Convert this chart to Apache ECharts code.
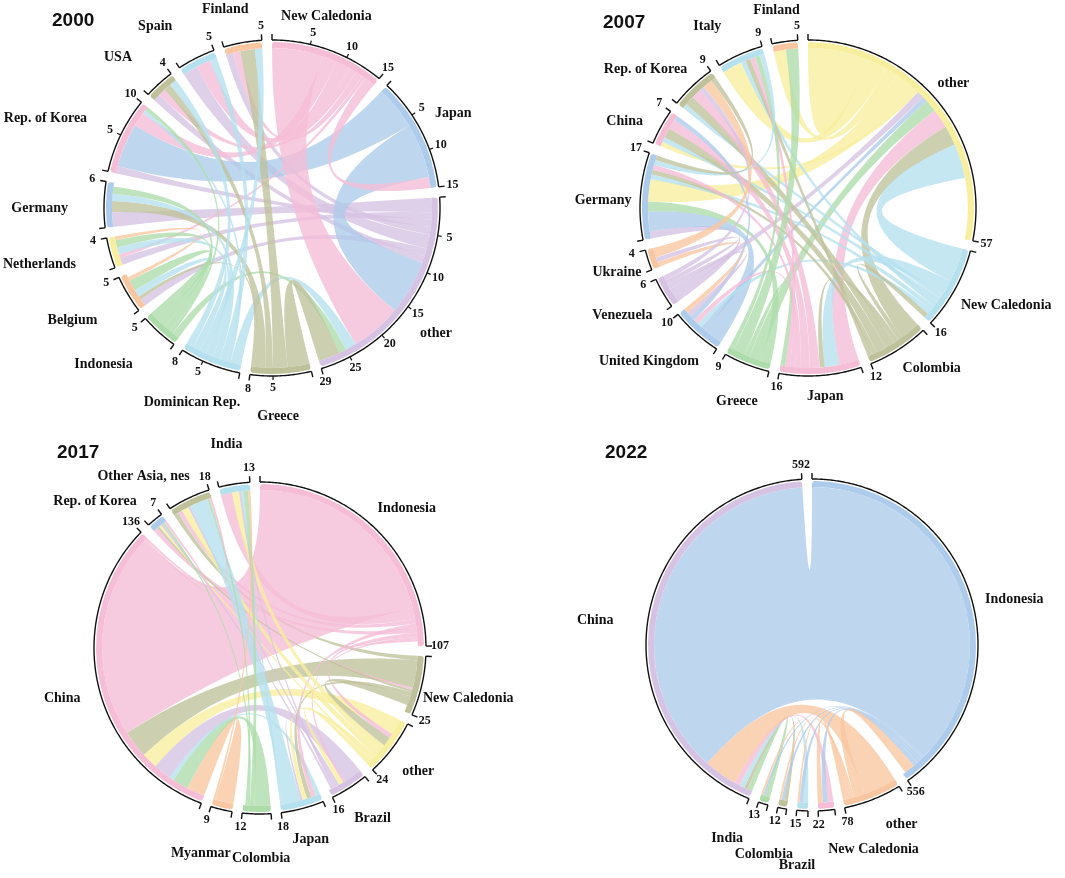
<!DOCTYPE html>
<html><head><meta charset="utf-8">
<script src="https://cdn.jsdelivr.net/npm/echarts@6/dist/echarts.min.js"></script>
<style>html,body{margin:0;padding:0;background:#fff}#c{width:1065px;height:878px}</style>
</head><body><div id="c"></div><script>
// ---------- DATA ----------
const names2000 = ['New Caledonia','Japan','other','Greece','Dominican Rep.','Indonesia','Belgium','Netherlands','Germany','Rep. of Korea','USA','Spain','Finland'];
const totals2000 = [15,15,29,8,8,5,5,4,6,10,4,5,5];
const links2000 = [
  ['other','Germany',2],['other','Netherlands',1],['other','Rep. of Korea',1],['other','Finland',1],['other','Spain',2],['other','Belgium',1],['other','USA',1],
  ['Japan','Rep. of Korea',6],['Japan','other',7.5],
  ['New Caledonia','other',7],['New Caledonia','Rep. of Korea',2],['New Caledonia','Spain',2],['New Caledonia','USA',1],
  ['New Caledonia','Finland',1],['New Caledonia','Netherlands',0.5],['New Caledonia','Japan',1.5],
  ['Dominican Rep.','other',1.5],['Indonesia','other',1],['Greece','other',3],
  ['Greece','Finland',2],['Greece','USA',1],['Greece','Germany',1.5],['Greece','Belgium',0.5],
  ['Dominican Rep.','Rep. of Korea',0.5],['Dominican Rep.','Spain',1],['Dominican Rep.','Germany',1],['Dominican Rep.','Netherlands',1],
  ['Dominican Rep.','Finland',1],['Dominican Rep.','Belgium',1],['Dominican Rep.','USA',1],
  ['Indonesia','Rep. of Korea',0.5],['Indonesia','Germany',1],['Indonesia','Netherlands',1],['Indonesia','Belgium',1.5],
  ['Belgium','Netherlands',0.5]
];

const names2007 = ['other','New Caledonia','Colombia','Japan','Greece','United Kingdom','Venezuela','Ukraine','Germany','China','Rep. of Korea','Italy','Finland'];
const totals2007 = [57,16,12,16,9,10,6,4,17,7,9,9,5];
const links2007 = [
  ['Venezuela','Germany',1.5],['United Kingdom','Germany',4],['Greece','Germany',2],
  ['other','other',12.5],['other','Italy',4],['other','Finland',2.5],['other','Germany',4.5],['other','China',1],
  ['Venezuela','other',1.5],['United Kingdom','other',1],['Greece','other',2.5],['Japan','other',4],['Colombia','other',4],['New Caledonia','other',7],
  ['New Caledonia','Japan',3],['New Caledonia','Rep. of Korea',1],['New Caledonia','China',1],
  ['New Caledonia','Italy',1],['New Caledonia','Germany',1],['New Caledonia','United Kingdom',1],
  ['Colombia','New Caledonia',1],['Colombia','Japan',1],['Colombia','Rep. of Korea',2],['Colombia','China',2],
  ['Colombia','Germany',1],['Colombia','Italy',1],
  ['Japan','Rep. of Korea',2],['Japan','China',2],['Japan','Germany',1],['Japan','United Kingdom',1],['Japan','Italy',1],
  ['Greece','Japan',1],['Greece','Finland',2.5],['Greece','Italy',1],
  ['United Kingdom','China',1],
  ['Venezuela','United Kingdom',1],['Ukraine','United Kingdom',1],
  ['Venezuela','Ukraine',1],['Venezuela','Rep. of Korea',1],['Ukraine','Rep. of Korea',2],
  ['Italy','Germany',1],['Rep. of Korea','Germany',1]
];

const names2017 = ['Indonesia','New Caledonia','other','Brazil','Japan','Colombia','Myanmar','China','Rep. of Korea','Other Asia, nes','India'];
const totals2017 = [107,25,24,16,18,12,9,136,7,18,13];
const links2017 = [
  ['New Caledonia','Other Asia, nes',2],
  ['Myanmar','China',8],['Colombia','China',7],['Japan','China',2],['Brazil','China',8],['other','China',7],['New Caledonia','China',12],['Indonesia','China',90],
  ['Indonesia','India',5],['Indonesia','Other Asia, nes',2],['Indonesia','Japan',2],['Indonesia','Rep. of Korea',2],
  ['Indonesia','other',2],['Indonesia','Brazil',1],['Indonesia','New Caledonia',1],
  ['New Caledonia','Rep. of Korea',1],['New Caledonia','Japan',2],['New Caledonia','other',4],
  ['other','India',3],['other','Other Asia, nes',3],['other','Japan',2],['other','Rep. of Korea',1],['other','Brazil',2],
  ['Brazil','Japan',1],['Brazil','Other Asia, nes',1],['Brazil','India',1],['Brazil','Rep. of Korea',1],
  ['Japan','Other Asia, nes',8],['Japan','India',1],
  ['Colombia','India',2],['Colombia','Rep. of Korea',1],['Colombia','Other Asia, nes',1],
  ['Myanmar','India',1],
  ['China','Rep. of Korea',1],['China','Other Asia, nes',1]
];

const names2022 = ['Indonesia','other','New Caledonia','Brazil','Colombia','India','China'];
const totals2022 = [556,78,22,15,12,13,592];
const links2022 = [
  ['India','China',7],['Colombia','China',5],['Brazil','China',7],['New Caledonia','China',8],['other','China',47],['Indonesia','China',518],
  ['Indonesia','India',3],['Indonesia','Colombia',4],['Indonesia','Brazil',5],['Indonesia','New Caledonia',7],['other','Indonesia',15],
  ['other','India',3],['other','Colombia',3],['other','Brazil',3],['other','New Caledonia',7]
];

// ---------- STYLE ----------
const C = {pink:'#f5bdd6', blue:'#adcbea', lav:'#d6c3e3', olive:'#bfc19b', cyan:'#b5e0ee', green:'#addcab', orange:'#f8c6a0', yellow:'#f7ee9e'};
const colors2000 = [C.pink,C.blue,C.lav,C.olive,C.cyan,C.green,C.orange,C.yellow,C.blue,C.pink,C.olive,C.cyan,C.orange];
const colors2007 = [C.yellow,C.cyan,C.olive,C.pink,C.green,C.blue,C.lav,C.orange,C.blue,C.pink,C.olive,C.cyan,C.orange];
const colors2017 = [C.pink,C.olive,C.yellow,C.lav,C.cyan,C.green,C.orange,C.pink,C.blue,C.olive,C.cyan];
const colors2022 = [C.blue,C.orange,C.pink,C.cyan,C.olive,C.green,C.lav];
// name label nudges (px) relative to the automatic outside anchor
const nudge2000 = [[-56,-4],[-8,0],[-10,9],[-4,10],[39,9],[-10,7],[-10,7],[-11,5],[-12,4],[-12,1],[-11,-1],[-13,-3],[-13,-3]];
const nudge2007 = [[-19,4],[-15,-3],[-9,-8],[3,-10],[20,8],[19,3],[10,3],[16,-2],[15,6],[3,13],[11,8],[-9,1],[-5,0]];
const nudge2017 = [[-16,2],[-22,7],[-9,1],[-8,3],[2,1],[5,13],[-15,14],[6,9],[-3,7],[11,7],[-4,-9]];
const nudge2022 = [[-8,19],[4,-4],[45,8],[-4,24],[-14,15],[-29,5],[-11,6]];

const PAD = 3.5;
const panels = [
  {title:'2000', tx:47, ty:6,   cx:272, cy:208, R:168, names:names2000, totals:totals2000, links:links2000, colors:colors2000, nudge:nudge2000, step:5},
  {title:'2007', tx:598, ty:8,  cx:808, cy:208, R:168, names:names2007, totals:totals2007, links:links2007, colors:colors2007, nudge:nudge2007, step:0},
  {title:'2017', tx:52, ty:438, cx:260, cy:648, R:166, names:names2017, totals:totals2017, links:links2017, colors:colors2017, nudge:nudge2017, step:0},
  {title:'2022', tx:600, ty:438,cx:812, cy:645, R:166, names:names2022, totals:totals2022, links:links2022, colors:colors2022, nudge:nudge2022, step:0}
];

// sector extents on the polar angle axis (degrees), mirroring the chord layout
panels.forEach(P => {
  const sums = P.names.map(() => 0);
  P.links.forEach(l => { sums[P.names.indexOf(l[0])] += l[2]; sums[P.names.indexOf(l[1])] += l[2]; });
  const eff = P.totals.map((t, i) => Math.max(t, sums[i]));
  const tot = eff.reduce((a, b) => a + b, 0);
  const unit = (360 - PAD * P.names.length) / tot;
  let cum = 0;
  P.lay = eff.map(v => { const a0 = cum, a1 = cum + v * unit; cum = a1 + PAD; return {a0, a1, unit}; });
});

const SERIF = '"Liberation Serif","DejaVu Serif",serif';
const option = {
  animation: false,
  backgroundColor: '#fff',
  title: panels.map(P => ({text: P.title, left: P.tx, top: P.ty, textStyle: {fontFamily: '"Liberation Sans",Arial,sans-serif', fontWeight: 'bold', fontSize: 19, color: '#111'}})),
  polar: panels.map(P => ({center: [P.cx, P.cy], radius: P.R + 80})),
  angleAxis: panels.map((P, i) => ({polarIndex: i, type: 'value', min: 0, max: 360, startAngle: 90, clockwise: true,
    axisLine: {show: false}, axisTick: {show: false}, axisLabel: {show: false}, splitLine: {show: false}})),
  radiusAxis: panels.map((P, i) => ({polarIndex: i, type: 'value', min: 0, max: P.R + 80,
    axisLine: {show: false}, axisTick: {show: false}, axisLabel: {show: false}, splitLine: {show: false}})),
  series: []
};

panels.forEach((P, pi) => {
  option.series.push({
    type: 'chord', center: [P.cx, P.cy], radius: [P.R - 8, P.R - 2],
    startAngle: 90, clockwise: true, padAngle: PAD, minAngle: 0,
    label: {show: false}, silent: true,
    itemStyle: {borderWidth: 0},
    lineStyle: {color: 'source', opacity: 0.78},
    data: P.names.map((n, i) => ({name: n, value: P.totals[i], itemStyle: {color: P.colors[i]}})),
    links: P.links.map(l => ({source: l[0], target: l[1], value: l[2]}))
  });
  option.series.push({
    type: 'custom', coordinateSystem: 'polar', polarIndex: pi, silent: true, z: 10,
    data: P.names.map((n, i) => [P.R, i]),
    renderItem: function (params, api) {
      const i = params.dataIndex, L = P.lay[i], R = P.R;
      const children = [];
      const pts = [];
      for (let t = L.a0; t < L.a1; t += 0.5) pts.push(api.coord([R, t]));
      pts.push(api.coord([R, L.a1]));
      children.push({type: 'polyline', shape: {points: pts}, style: {stroke: '#111', lineWidth: 1.4, fill: null}});
      [L.a0, L.a1].forEach(a => {
        const p1 = api.coord([R, a]), p2 = api.coord([R + 6, a]);
        children.push({type: 'line', shape: {x1: p1[0], y1: p1[1], x2: p2[0], y2: p2[1]}, style: {stroke: '#111', lineWidth: 1.4}});
      });
      const txt = (a, r, s, size) => {
        const p = api.coord([r, a]);
        return {type: 'text', x: p[0], y: p[1], style: {text: s, fontFamily: SERIF, fontWeight: 'bold', fontSize: size, fill: '#111', align: 'center', verticalAlign: 'middle'}};
      };
      if (P.step) {
        for (let k = P.step; P.totals[i] - k >= 2; k += P.step) {
          const a = L.a0 + k * L.unit;
          const p1 = api.coord([R, a]), p2 = api.coord([R + 4, a]);
          children.push({type: 'line', shape: {x1: p1[0], y1: p1[1], x2: p2[0], y2: p2[1]}, style: {stroke: '#111', lineWidth: 1.2}});
          children.push(txt(a, R + 12, String(k), 12));
        }
      }
      children.push(txt(L.a1, R + 14, String(P.totals[i]), 12));
      const m = (L.a0 + L.a1) / 2, rad = m * Math.PI / 180;
      const s = Math.sin(rad), c = Math.cos(rad);
      const p = api.coord([R + 24, m]);
      const nd = P.nudge[i] || [0, 0];
      children.push({type: 'text', x: p[0] + nd[0], y: p[1] + nd[1], style: {text: P.names[i], fontFamily: SERIF, fontWeight: 'bold', fontSize: 14, fill: '#111',
        align: s > 0.3 ? 'left' : (s < -0.3 ? 'right' : 'center'), verticalAlign: c > 0.3 ? 'bottom' : (c < -0.3 ? 'top' : 'middle')}});
      return {type: 'group', children};
    }
  });
});

const chart = echarts.init(document.getElementById('c'), null, {renderer: 'canvas'});
chart.setOption(option);
</script></body></html>
